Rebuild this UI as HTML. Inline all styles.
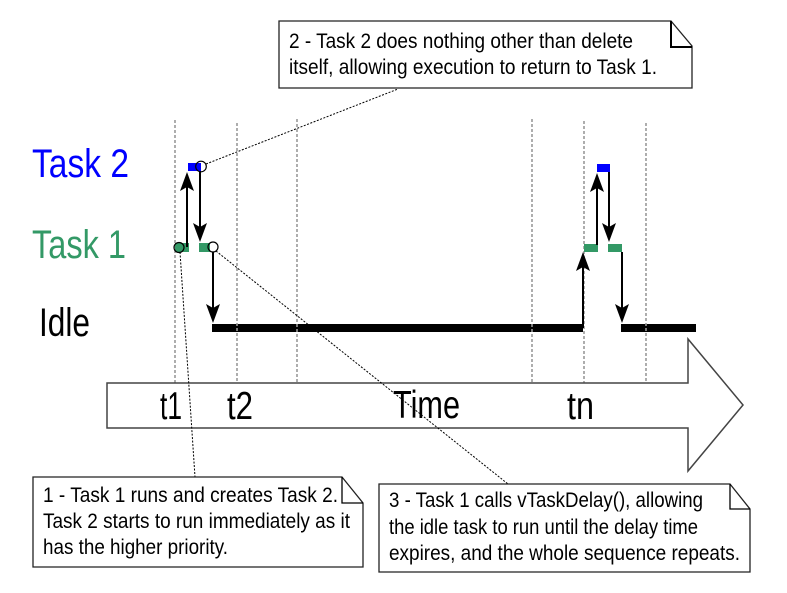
<!DOCTYPE html>
<html><head><meta charset="utf-8"><style>
html,body{margin:0;padding:0;background:#fff;}
svg{display:block;}
text{font-family:"Liberation Sans",Arial,sans-serif;}
</style></head><body>
<svg width="787" height="593" viewBox="0 0 787 593" xmlns="http://www.w3.org/2000/svg">
<rect width="787" height="593" fill="#fff"/>

<!-- idle bars -->
<rect x="212" y="324" width="371" height="8" fill="#000"/>
<rect x="621" y="324" width="75" height="8" fill="#000"/>

<!-- dashed verticals -->
<g stroke="#999" stroke-width="1.6" stroke-dasharray="3,2">
<line x1="175" y1="120" x2="175" y2="384"/>
<line x1="237" y1="123" x2="237" y2="384"/>
<line x1="297" y1="119" x2="297" y2="384"/>
<line x1="532" y1="119" x2="532" y2="384"/>
<line x1="584" y1="121" x2="584" y2="384"/>
<line x1="646" y1="123" x2="646" y2="388"/>
</g>

<!-- time arrow -->
<polygon points="107,383 688,383 688,339 743,405 688,471 688,428 107,428" fill="#fff" stroke="#444" stroke-width="1.5"/>
<text x="160" y="419" font-size="39" textLength="22" lengthAdjust="spacingAndGlyphs">t1</text>
<text x="227" y="419" font-size="39" textLength="26" lengthAdjust="spacingAndGlyphs">t2</text>
<text x="393" y="418" font-size="39" textLength="67" lengthAdjust="spacingAndGlyphs">Time</text>
<text x="567" y="419" font-size="39" textLength="27" lengthAdjust="spacingAndGlyphs">tn</text>

<!-- row labels -->
<text x="32" y="177" font-size="40" fill="#0000ff" textLength="97" lengthAdjust="spacingAndGlyphs">Task 2</text>
<text x="32" y="258" font-size="40" fill="#339966" textLength="94" lengthAdjust="spacingAndGlyphs">Task 1</text>
<text x="39" y="336" font-size="40" fill="#000" textLength="51" lengthAdjust="spacingAndGlyphs">Idle</text>

<!-- task bars left -->
<rect x="188" y="163" width="13" height="8" fill="#0000ff"/>
<rect x="175" y="243" width="14" height="9" fill="#339966"/>
<rect x="199" y="243" width="11" height="9" fill="#339966"/>
<!-- task bars right -->
<rect x="597" y="164" width="13" height="8" fill="#0000ff"/>
<rect x="584" y="244" width="14" height="8" fill="#339966"/>
<rect x="608" y="244" width="14" height="8" fill="#339966"/>

<!-- arrows -->
<g stroke="#000" stroke-width="2" fill="none">
<line x1="187" y1="247" x2="187" y2="186"/>
<line x1="200" y1="171" x2="200" y2="228"/>
<line x1="213" y1="252" x2="213" y2="309"/>
<line x1="597" y1="245" x2="597" y2="186"/>
<line x1="609" y1="172" x2="609" y2="228"/>
<line x1="583" y1="328" x2="583" y2="266"/>
<line x1="622" y1="252" x2="622" y2="309"/>
</g>
<g fill="#000">
<polygon points="187,172 194,191 187,187 180,191"/>
<polygon points="200,242 207,223 200,227 193,223"/>
<polygon points="213,323 220,304 213,308 206,304"/>
<polygon points="597,173 604,192 597,188 590,192"/>
<polygon points="609,242 616,223 609,227 602,223"/>
<polygon points="583,252 590,271 583,267 576,271"/>
<polygon points="622,323 629,304 622,308 615,304"/>
</g>

<!-- circles -->
<g fill="none" stroke="#000" stroke-width="1.2">
<circle cx="201" cy="166.5" r="5.3"/>
<circle cx="179" cy="247.5" r="5"/>
<circle cx="213" cy="247" r="5"/>
</g>

<!-- connectors -->
<g stroke="#000" stroke-width="1" stroke-dasharray="2,1.5" fill="none">
<line x1="206" y1="164" x2="398" y2="89"/>
<line x1="180" y1="252" x2="195" y2="477"/>
<line x1="216" y1="251" x2="508" y2="484"/>
</g>

<!-- Box 2 -->
<polygon points="279,21 671,21 692,46 692,88 279,88" fill="#fff" stroke="#222" stroke-width="1.3"/>
<polyline points="671,21 671,47 692,47" fill="none" stroke="#000" stroke-width="2"/>
<text x="289" y="48" font-size="21" textLength="344" lengthAdjust="spacingAndGlyphs">2 - Task 2 does nothing other than delete</text>
<text x="289" y="74" font-size="21" textLength="368" lengthAdjust="spacingAndGlyphs">itself, allowing execution to return to Task 1.</text>

<!-- Box 1 -->
<polygon points="33,477 342,477 363,503 363,567 33,567" fill="#fff" stroke="#222" stroke-width="1.3"/>
<polyline points="342,477 342,503 363,503" fill="none" stroke="#000" stroke-width="1.3"/>
<text x="43" y="502" font-size="21" textLength="295" lengthAdjust="spacingAndGlyphs">1 - Task 1 runs and creates Task 2.</text>
<text x="43" y="528" font-size="21" textLength="307" lengthAdjust="spacingAndGlyphs">Task 2 starts to run immediately as it</text>
<text x="43" y="554" font-size="21" textLength="185" lengthAdjust="spacingAndGlyphs">has the higher priority.</text>

<!-- Box 3 -->
<polygon points="379,484 730,484 750,509 750,572 379,572" fill="#fff" stroke="#222" stroke-width="1.3"/>
<polyline points="730,484 730,509 750,509" fill="none" stroke="#000" stroke-width="1.3"/>
<text x="389" y="507" font-size="21" textLength="314" lengthAdjust="spacingAndGlyphs">3 - Task 1 calls vTaskDelay(), allowing</text>
<text x="389" y="534" font-size="21" textLength="309" lengthAdjust="spacingAndGlyphs">the idle task to run until the delay time</text>
<text x="389" y="560" font-size="21" textLength="351" lengthAdjust="spacingAndGlyphs">expires, and the whole sequence repeats.</text>
</svg>
</body></html>
